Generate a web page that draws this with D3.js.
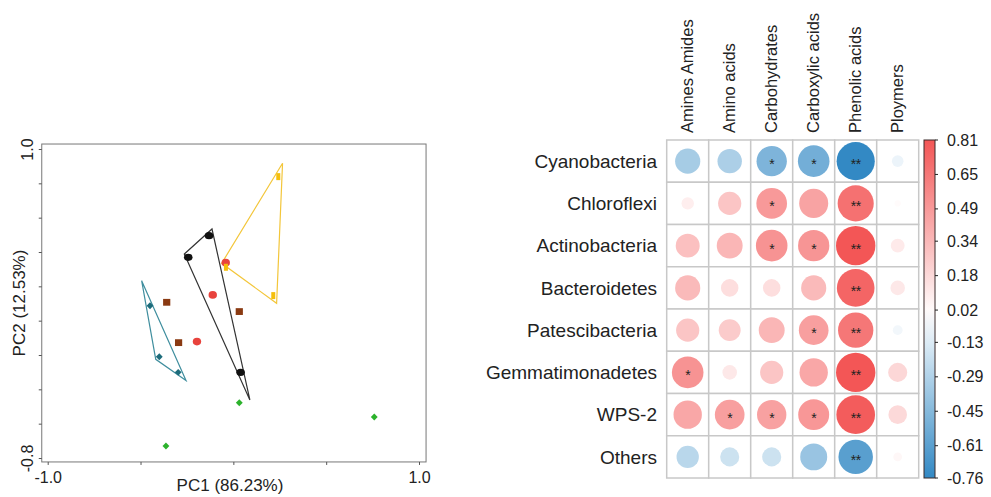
<!DOCTYPE html>
<html>
<head>
<meta charset="utf-8">
<script src="https://cdn.jsdelivr.net/npm/d3@7"></script>
<style>
  body { margin: 0; background: #fff; }
  text { font-family: "Liberation Sans", Arial, sans-serif; fill: #222; }
</style>
</head>
<body>
<div id="app"></div>
<script>
// ---- PCA data (PC1, PC2) ----
const yellowPts = [[0.242, 0.839], [-0.040, 0.311], [0.215, 0.146]];
const blackPts  = [[-0.243, 0.369], [-0.131, 0.495], [0.039, -0.301]];
const tealPts   = [[-0.449, 0.087], [-0.399, -0.210], [-0.297, -0.301]];
const redPts    = [[-0.041, 0.338], [-0.111, 0.150], [-0.196, -0.122]];
const brownPts  = [[-0.359, 0.107], [0.032, 0.053], [-0.295, -0.128]];
const greenPts  = [[0.032, -0.478], [0.759, -0.561], [-0.363, -0.730]];

const yellowHull = [[0.265, 0.917], [-0.063, 0.334], [0.233, 0.101]];
const blackHull  = [[-0.264, 0.388], [-0.115, 0.534], [0.089, -0.462]];
const tealHull   = [[-0.494, 0.233], [-0.418, -0.225], [-0.255, -0.349]];

const xTicks = [-1, -0.5, 0, 0.5, 1];
const yTicks = [-0.8, -0.6, -0.4, -0.2, 0, 0.2, 0.4, 0.6, 0.8, 1.0];

// ---- correlation data ----
const rows = ["Cyanobacteria", "Chloroflexi", "Actinobacteria", "Bacteroidetes",
              "Patescibacteria", "Gemmatimonadetes", "WPS-2", "Others"];
const cols = ["Amines Amides", "Amino acids", "Carbohydrates", "Carboxylic acids",
              "Phenolic acids", "Ploymers"];
const corrValues = [
  [-0.33, -0.31, -0.48, -0.52, -0.76, -0.07],
  [ 0.08,  0.28,  0.49,  0.44,  0.68,  0.02],
  [ 0.30,  0.35,  0.52,  0.51,  0.81,  0.10],
  [ 0.33,  0.16,  0.16,  0.33,  0.74,  0.11],
  [ 0.28,  0.25,  0.35,  0.46,  0.65, -0.05],
  [ 0.52,  0.11,  0.28,  0.42,  0.81,  0.19],
  [ 0.42,  0.46,  0.45,  0.50,  0.78,  0.18],
  [-0.26, -0.19, -0.19, -0.38, -0.62,  0.04]
];
const signif = [
  ["", "", "*", "*", "**", ""],
  ["", "", "*", "", "**", ""],
  ["", "", "*", "*", "**", ""],
  ["", "", "", "", "**", ""],
  ["", "", "", "*", "**", ""],
  ["*", "", "", "", "**", ""],
  ["", "*", "*", "*", "**", ""],
  ["", "", "", "", "**", ""]
];
const legendTicks = [0.81, 0.65, 0.49, 0.34, 0.18, 0.02, -0.13, -0.29, -0.45, -0.61, -0.76];

const svg = d3.select("#app").append("svg")
  .attr("width", 991)
  .attr("height", 497);

svg.append("rect").attr("width", 991).attr("height", 497).attr("fill", "#fff");

// ================= PCA plot =================
const x = d3.scaleLinear().domain([-1, 1]).range([47.7, 419]);
const y = d3.scaleLinear().domain([-0.8, 1.0]).range([458, 149]);

const pca = svg.append("g");

pca.append("rect")
  .attr("x", x(-1.032))
  .attr("y", y(1.029))
  .attr("width", x(1.038) - x(-1.032))
  .attr("height", y(-0.823) - y(1.029))
  .attr("fill", "none")
  .attr("stroke", "#777")
  .attr("stroke-width", 1);

const xAxis = pca.append("g")
  .attr("transform", `translate(0,${y(-0.823)})`)
  .call(d3.axisBottom(x).tickValues(xTicks).tickSize(3).tickPadding(7)
    .tickFormat(d => (d === -1 || d === 1) ? d.toFixed(1) : ""));
xAxis.select(".domain").remove();
xAxis.selectAll("line").attr("stroke", "#555");
xAxis.selectAll("text").style("font-size", "16px").attr("fill", "#222");

const yAxis = pca.append("g")
  .attr("transform", `translate(${x(-1.032)},0)`)
  .call(d3.axisLeft(y).tickValues(yTicks).tickSize(3)
    .tickFormat(d => (Math.abs(d + 0.8) < 1e-6 || Math.abs(d - 1) < 1e-6) ? d.toFixed(1) : ""));
yAxis.select(".domain").remove();
yAxis.selectAll("line").attr("stroke", "#555");
yAxis.selectAll("text")
  .style("font-size", "16px")
  .attr("fill", "#222")
  .attr("text-anchor", "middle")
  .attr("transform", "rotate(-90)")
  .attr("x", 0)
  .attr("y", -8.5)
  .attr("dy", 0);

pca.append("text")
  .attr("x", 230).attr("y", 490.5)
  .attr("text-anchor", "middle")
  .style("font-size", "17px")
  .text("PC1 (86.23%)");

pca.append("text")
  .attr("transform", "translate(25,303) rotate(-90)")
  .attr("text-anchor", "middle")
  .style("font-size", "17px")
  .text("PC2 (12.53%)");

// hulls
const line = d3.line().x(d => x(d[0])).y(d => y(d[1])).curve(d3.curveLinearClosed);
const hulls = [
  { pts: tealHull, color: "#3f8e9e" },
  { pts: blackHull, color: "#333" },
  { pts: yellowHull, color: "#f3c63a" }
];
pca.selectAll("path.hull")
  .data(hulls)
  .join("path")
  .attr("class", "hull")
  .attr("d", d => line(d.pts))
  .attr("fill", "none")
  .attr("stroke", d => d.color)
  .attr("stroke-width", 1.2);

// points
const diamond = d3.symbol().type(d3.symbolDiamond2).size(30);
pca.selectAll("path.teal").data(tealPts).join("path")
  .attr("class", "teal")
  .attr("transform", d => `translate(${x(d[0])},${y(d[1])})`)
  .attr("d", diamond())
  .attr("fill", "#1d6c7b");

pca.selectAll("path.green").data(greenPts).join("path")
  .attr("class", "green")
  .attr("transform", d => `translate(${x(d[0])},${y(d[1])})`)
  .attr("d", diamond())
  .attr("fill", "#2cb22c");

pca.selectAll("ellipse.black").data(blackPts).join("ellipse")
  .attr("class", "black")
  .attr("cx", d => x(d[0])).attr("cy", d => y(d[1]))
  .attr("rx", 4.3).attr("ry", 3.6)
  .attr("fill", "#111");

pca.selectAll("ellipse.red").data(redPts).join("ellipse")
  .attr("class", "red")
  .attr("cx", d => x(d[0])).attr("cy", d => y(d[1]))
  .attr("rx", 4.2).attr("ry", 3.8)
  .attr("fill", "#e8433d");

pca.selectAll("rect.brown").data(brownPts).join("rect")
  .attr("class", "brown")
  .attr("x", d => x(d[0]) - 3.6).attr("y", d => y(d[1]) - 3.4)
  .attr("width", 7.2).attr("height", 6.8)
  .attr("fill", "#8a3a12");

pca.selectAll("rect.yellow").data(yellowPts).join("rect")
  .attr("class", "yellow")
  .attr("x", d => x(d[0]) - 2).attr("y", d => y(d[1]) - 3.5)
  .attr("width", 4).attr("height", 7)
  .attr("fill", "#f5bf0c");

// ================= correlation plot =================
const cx = d3.scaleBand().domain(cols).range([666.7, 918.7]);
const cy = d3.scaleBand().domain(rows).range([140, 478]);
const color = d3.scaleLinear().domain([-0.76, 0, 0.81]).range(["#3389c4", "#ffffff", "#f35656"]);
const rad = d3.scaleSqrt().domain([0, 0.81]).range([0, 19.7]);

const cells = [];
rows.forEach((r, i) => cols.forEach((c, j) => {
  cells.push({ row: r, col: c, v: corrValues[i][j], s: signif[i][j] });
}));

const heat = svg.append("g");

heat.selectAll("rect.cell").data(cells).join("rect")
  .attr("class", "cell")
  .attr("x", d => cx(d.col)).attr("y", d => cy(d.row))
  .attr("width", cx.bandwidth()).attr("height", cy.bandwidth())
  .attr("fill", "#fff")
  .attr("stroke", "#c8c8c8")
  .attr("stroke-width", 1.5);

heat.selectAll("circle.c").data(cells).join("circle")
  .attr("class", "c")
  .attr("cx", d => cx(d.col) + cx.bandwidth() / 2)
  .attr("cy", d => cy(d.row) + cy.bandwidth() / 2)
  .attr("r", d => rad(Math.abs(d.v)))
  .attr("fill", d => color(d.v));

heat.selectAll("text.sig").data(cells.filter(d => d.s)).join("text")
  .attr("class", "sig")
  .attr("x", d => cx(d.col) + cx.bandwidth() / 2)
  .attr("y", d => cy(d.row) + cy.bandwidth() / 2 + 8)
  .attr("text-anchor", "middle")
  .style("font-size", "14px")
  .style("letter-spacing", "-0.5px")
  .attr("fill", "#1a1a1a")
  .text(d => d.s);

heat.selectAll("text.row").data(rows).join("text")
  .attr("class", "row")
  .attr("x", 657)
  .attr("y", d => cy(d) + cy.bandwidth() / 2)
  .attr("dy", "0.35em")
  .attr("text-anchor", "end")
  .style("font-size", "19px")
  .text(d => d);

heat.selectAll("text.col").data(cols).join("text")
  .attr("class", "col")
  .attr("transform", d => `translate(${cx(d) + cx.bandwidth() / 2 + 5},133) rotate(-90)`)
  .attr("text-anchor", "start")
  .style("font-size", "16.5px")
  .text(d => d);

// colour legend
const ly = d3.scaleLinear().domain([-0.76, 0.81]).range([478, 140]);
const defs = svg.append("defs");
const grad = defs.append("linearGradient")
  .attr("id", "cbar").attr("x1", 0).attr("y1", 1).attr("x2", 0).attr("y2", 0);
d3.range(0, 1.0001, 0.1).forEach(t => {
  const v = -0.76 + t * (0.81 + 0.76);
  grad.append("stop").attr("offset", t).attr("stop-color", color(v));
});

heat.append("rect")
  .attr("x", 924).attr("y", 140)
  .attr("width", 11).attr("height", 338)
  .attr("fill", "url(#cbar)")
  .attr("stroke", "#3a2a2a")
  .attr("stroke-width", 1);

heat.selectAll("line.lt").data(legendTicks).join("line")
  .attr("class", "lt")
  .attr("x1", 935).attr("x2", 938)
  .attr("y1", d => ly(d)).attr("y2", d => ly(d))
  .attr("stroke", "#222");

heat.selectAll("text.lt").data(legendTicks).join("text")
  .attr("class", "lt")
  .attr("x", 947)
  .attr("y", d => ly(d))
  .attr("dy", "0.35em")
  .style("font-size", "16px")
  .text(d => d.toFixed(2));
</script>
</body>
</html>
